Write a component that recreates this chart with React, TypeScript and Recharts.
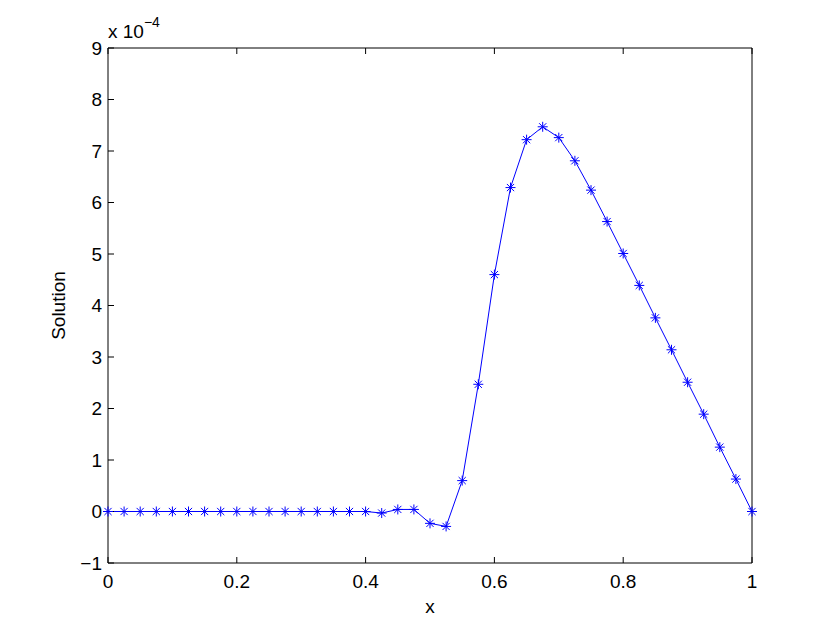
import React from "react";
import { LineChart, Line, XAxis, YAxis } from "recharts";

// grid points along x
const xValues = [
  0, 0.025, 0.05, 0.075, 0.1, 0.125, 0.15, 0.175, 0.2, 0.225, 0.25, 0.275,
  0.3, 0.325, 0.35, 0.375, 0.4, 0.425, 0.45, 0.475, 0.5, 0.525, 0.55, 0.575,
  0.6, 0.625, 0.65, 0.675, 0.7, 0.725, 0.75, 0.775, 0.8, 0.825, 0.85, 0.875,
  0.9, 0.925, 0.95, 0.975, 1,
];

// solution values, in units of 1e-4
const solutionValues = [
  0, 0, 0, 0, 0, 0, 0, 0, 0, 0, 0, 0, 0, 0, 0, 0, 0, -0.03, 0.04, 0.04,
  -0.23, -0.29, 0.6, 2.47, 4.6, 6.29, 7.22, 7.47, 7.26, 6.81, 6.24, 5.63,
  5.01, 4.39, 3.76, 3.14, 2.51, 1.89, 1.25, 0.63, 0,
];

const xTicks = [0, 0.2, 0.4, 0.6, 0.8, 1];
const yTicks = [-1, 0, 1, 2, 3, 4, 5, 6, 7, 8, 9];

const data = xValues.map((x, i) => ({ x, y: solutionValues[i] }));

const FONT = "'Liberation Sans', Arial, Helvetica, sans-serif";
const FS = 19;
const BLUE = "#0000ff";

const Asterisk = (props: any) => {
  const { cx, cy } = props;
  if (cx == null || cy == null) return <g />;
  const r = 5;
  const d = 3.6;
  return (
    <g stroke={BLUE} strokeWidth={1} fill="none">
      <line x1={cx - r} y1={cy} x2={cx + r} y2={cy} />
      <line x1={cx} y1={cy - r} x2={cx} y2={cy + r} />
      <line x1={cx - d} y1={cy - d} x2={cx + d} y2={cy + d} />
      <line x1={cx - d} y1={cy + d} x2={cx + d} y2={cy - d} />
    </g>
  );
};

const fmtX = (v: number) => String(v);
const fmtY = (v: number) => (v < 0 ? "\u2212" + Math.abs(v) : String(v));

const noLabel = () => <g />;

export default function App() {
  return (
    <div style={{ position: "absolute", left: 0, top: 0, background: "#fff" }}>
      <LineChart
        width={830}
        height={635}
        data={data}
        margin={{ top: 0, right: 0, bottom: 0, left: 0 }}
      >
        <XAxis
          xAxisId="bottom"
          dataKey="x"
          type="number"
          domain={[0, 1]}
          ticks={xTicks}
          tickFormatter={fmtX}
          height={72}
          stroke="#000"
          tickSize={-6}
          tickMargin={18}
          tick={{ fill: "#000", fontSize: FS, fontFamily: FONT }}
          label={{
            value: "x",
            position: "center",
            dy: 7,
            fill: "#000",
            fontSize: FS,
            fontFamily: FONT,
          }}
        />
        <XAxis
          xAxisId="top"
          orientation="top"
          dataKey="x"
          type="number"
          domain={[0, 1]}
          ticks={xTicks}
          height={48}
          stroke="#000"
          tickSize={-6}
          tick={noLabel}
          label={{
            content: () => (
              <text x={108} y={38} fill="#000" fontSize={FS} fontFamily={FONT}>
                x 10
                <tspan dy={-11} fontSize={14}>
                  {"\u22124"}
                </tspan>
              </text>
            ),
          }}
        />
        <YAxis
          yAxisId="left"
          type="number"
          domain={[-1, 9]}
          ticks={yTicks}
          tickFormatter={fmtY}
          width={108}
          stroke="#000"
          tickSize={-6}
          tickMargin={12}
          tick={{ fill: "#000", fontSize: FS, fontFamily: FONT }}
          label={{
            value: "Solution",
            angle: -90,
            position: "center",
            dx: 4,
            fill: "#000",
            fontSize: FS,
            fontFamily: FONT,
          }}
        />
        <YAxis
          yAxisId="right"
          orientation="right"
          type="number"
          domain={[-1, 9]}
          ticks={yTicks}
          width={78}
          stroke="#000"
          tickSize={-6}
          tick={noLabel}
        />
        <Line
          xAxisId="bottom"
          yAxisId="left"
          type="linear"
          dataKey="y"
          stroke={BLUE}
          strokeWidth={1}
          dot={<Asterisk />}
          activeDot={false}
          isAnimationActive={false}
        />
      </LineChart>
    </div>
  );
}
